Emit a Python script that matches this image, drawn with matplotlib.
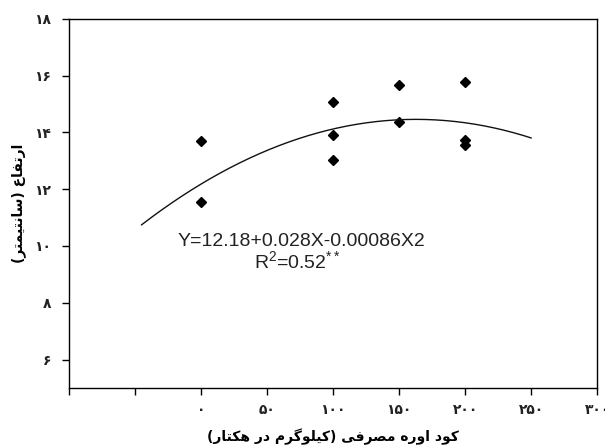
import numpy as np
import matplotlib
matplotlib.use('Agg')
import matplotlib.pyplot as plt

# urea rate (kg/ha) and plant height (cm)
urea = [0, 0, 100, 100, 100, 150, 150, 200, 200, 200]
height = [13.71, 11.54, 15.06, 13.91, 13.04, 15.67, 14.38, 15.79, 13.75, 13.56]

# quadratic fit drawn in the figure (a + b*x + c*x^2)
fit_coef = [12.18, 0.028, -0.000086]
fit_range = [-45, 250]

x_ticks = [-100, -50, 0, 50, 100, 150, 200, 250, 300]
x_labels = ['', '', '۰', '۵۰', '۱۰۰', '۱۵۰', '۲۰۰', '۲۵۰', '۳۰۰']
y_ticks = [6, 8, 10, 12, 14, 16, 18]
y_labels = ['۶', '۸', '۱۰', '۱۲', '۱۴', '۱۶', '۱۸']

x_title = 'کود اوره مصرفی (کیلوگرم در هکتار)'
y_title = 'ارتفاع (سانتیمتر)'
eq_text = 'Y=12.18+0.028X-0.00086X2'
r2_text = r'R$^2$=0.52$^{**}$'

# matplotlib has no arabic shaping, so pick presentation forms by hand
FORMS = {
    'ا': ('\uFE8D', '\uFE8E'),
    'ر': ('\uFEAD', '\uFEAE'),
    'د': ('\uFEA9', '\uFEAA'),
    'و': ('\uFEED', '\uFEEE'),
    'ت': ('\uFE95', '\uFE96', '\uFE97', '\uFE98'),
    'ف': ('\uFED1', '\uFED2', '\uFED3', '\uFED4'),
    'ع': ('\uFEC9', '\uFECA', '\uFECB', '\uFECC'),
    'س': ('\uFEB1', '\uFEB2', '\uFEB3', '\uFEB4'),
    'ن': ('\uFEE5', '\uFEE6', '\uFEE7', '\uFEE8'),
    'ی': ('\uFBFC', '\uFBFD', '\uFBFE', '\uFBFF'),
    'م': ('\uFEE1', '\uFEE2', '\uFEE3', '\uFEE4'),
    'ک': ('\uFB8E', '\uFB8F', '\uFB90', '\uFB91'),
    'ه': ('\uFEE9', '\uFEEA', '\uFEEB', '\uFEEC'),
    'ص': ('\uFEB9', '\uFEBA', '\uFEBB', '\uFEBC'),
    'ل': ('\uFEDD', '\uFEDE', '\uFEDF', '\uFEE0'),
    'گ': ('\uFB92', '\uFB93', '\uFB94', '\uFB95'),
}


def shape(s):
    out = []
    for i, ch in enumerate(s):
        if ch not in FORMS:
            out.append(ch)
            continue
        f = FORMS[ch]
        prev = i > 0 and s[i - 1] in FORMS and len(FORMS[s[i - 1]]) == 4
        nxt = i < len(s) - 1 and s[i + 1] in FORMS and len(f) == 4
        if prev and nxt:
            out.append(f[3])
        elif prev:
            out.append(f[1])
        elif nxt:
            out.append(f[2])
        else:
            out.append(f[0])
    return ''.join(out)


def rtl(s):
    # visual order for a right-to-left line, brackets mirrored
    vis = shape(s)[::-1]
    return vis.translate(str.maketrans('()', ')('))


def main():
    plt.rcParams['mathtext.fontset'] = 'custom'
    plt.rcParams['mathtext.rm'] = 'Liberation Sans'
    plt.rcParams['mathtext.it'] = 'Liberation Sans'

    fig = plt.figure(figsize=(6.05, 4.48), dpi=100)
    ax = fig.add_axes([0.114, 0.134, 0.873, 0.824])

    ax.plot(urea, height, 'D', color='black', markersize=5.5, ls='none')

    xs = np.linspace(fit_range[0], fit_range[1], 200)
    ax.plot(xs, np.polyval(fit_coef[::-1], xs), color='#111111', lw=1.0)

    ax.set_xlim(-100, 300)
    ax.set_ylim(5, 18)
    ax.set_xticks(x_ticks)
    ax.set_xticklabels(x_labels)
    ax.set_yticks(y_ticks)
    ax.set_yticklabels(y_labels)
    for lab in ax.get_xticklabels() + ax.get_yticklabels():
        lab.set_family('DejaVu Sans')
        lab.set_fontweight('bold')
        lab.set_fontsize(10)
        lab.set_color('#222222')
    ax.tick_params(direction='out', length=5, width=1, pad=6)
    ax.tick_params(axis='y', pad=8)
    for sp in ax.spines.values():
        sp.set_linewidth(1)

    ax.set_xlabel(rtl(x_title), family='DejaVu Sans', fontweight='bold',
                  fontsize=10, labelpad=8)
    ax.set_ylabel(rtl(y_title), family='DejaVu Sans', fontweight='bold',
                  fontsize=10, labelpad=6)

    ax.text(76, 10.15, eq_text, ha='center', va='center',
            family='Liberation Sans', fontsize=14, color='#222222')
    ax.text(73, 9.45, r2_text, ha='center', va='center',
            family='Liberation Sans', fontsize=14, color='#222222')

    fig.savefig('out.png', dpi=100)


if __name__ == "__main__":
    main()
